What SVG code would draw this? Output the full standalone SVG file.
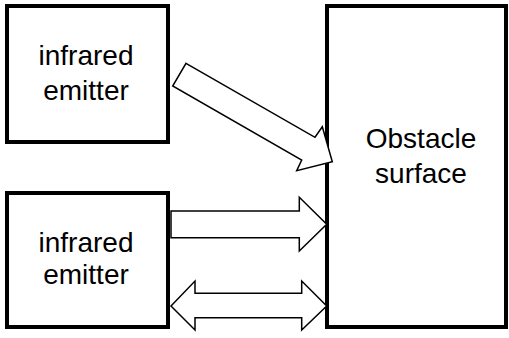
<svg xmlns="http://www.w3.org/2000/svg" width="509" height="338" viewBox="0 0 509 338">
<style>
.box{fill:#fff;stroke:#000;stroke-width:4}
.lbl{font-family:"Liberation Sans",Arial,sans-serif;font-size:28px;fill:#000;text-anchor:middle}
.arr{fill:#fff;stroke:#000;stroke-width:1.5;stroke-linejoin:miter}
</style>
<rect width="509" height="338" fill="#fff"/>
<g id="emitter1">
<rect class="box" x="7" y="6" width="161" height="136"/>
<text class="lbl" x="86" y="65">infrared</text>
<text class="lbl" x="86" y="100">emitter</text>
</g>
<g id="emitter2">
<rect class="box" x="7" y="193" width="161" height="134"/>
<text class="lbl" x="86" y="252">infrared</text>
<text class="lbl" x="86" y="284">emitter</text>
</g>
<g id="obstacle">
<rect class="box" x="327" y="6" width="179" height="321"/>
<text class="lbl" x="421" y="148">Obstacle</text>
<text class="lbl" x="421" y="183">surface</text>
</g>
<g id="connectors">
<polygon class="arr" points="186,63.3 315,137.3 322.3,126.7 332.3,161.7 296.7,170.7 301.7,160 172.7,86"/>
<polygon class="arr" points="171,211 299.3,211 299.3,197.3 326.7,224.3 299.3,251 299.3,237.7 171,237.7"/>
<polygon class="arr" points="171,306 195,281 195,293.3 301.7,293.3 301.7,281 326.7,306 301.7,330 301.7,317.7 195,317.7 195,330"/>
</g>
</svg>
